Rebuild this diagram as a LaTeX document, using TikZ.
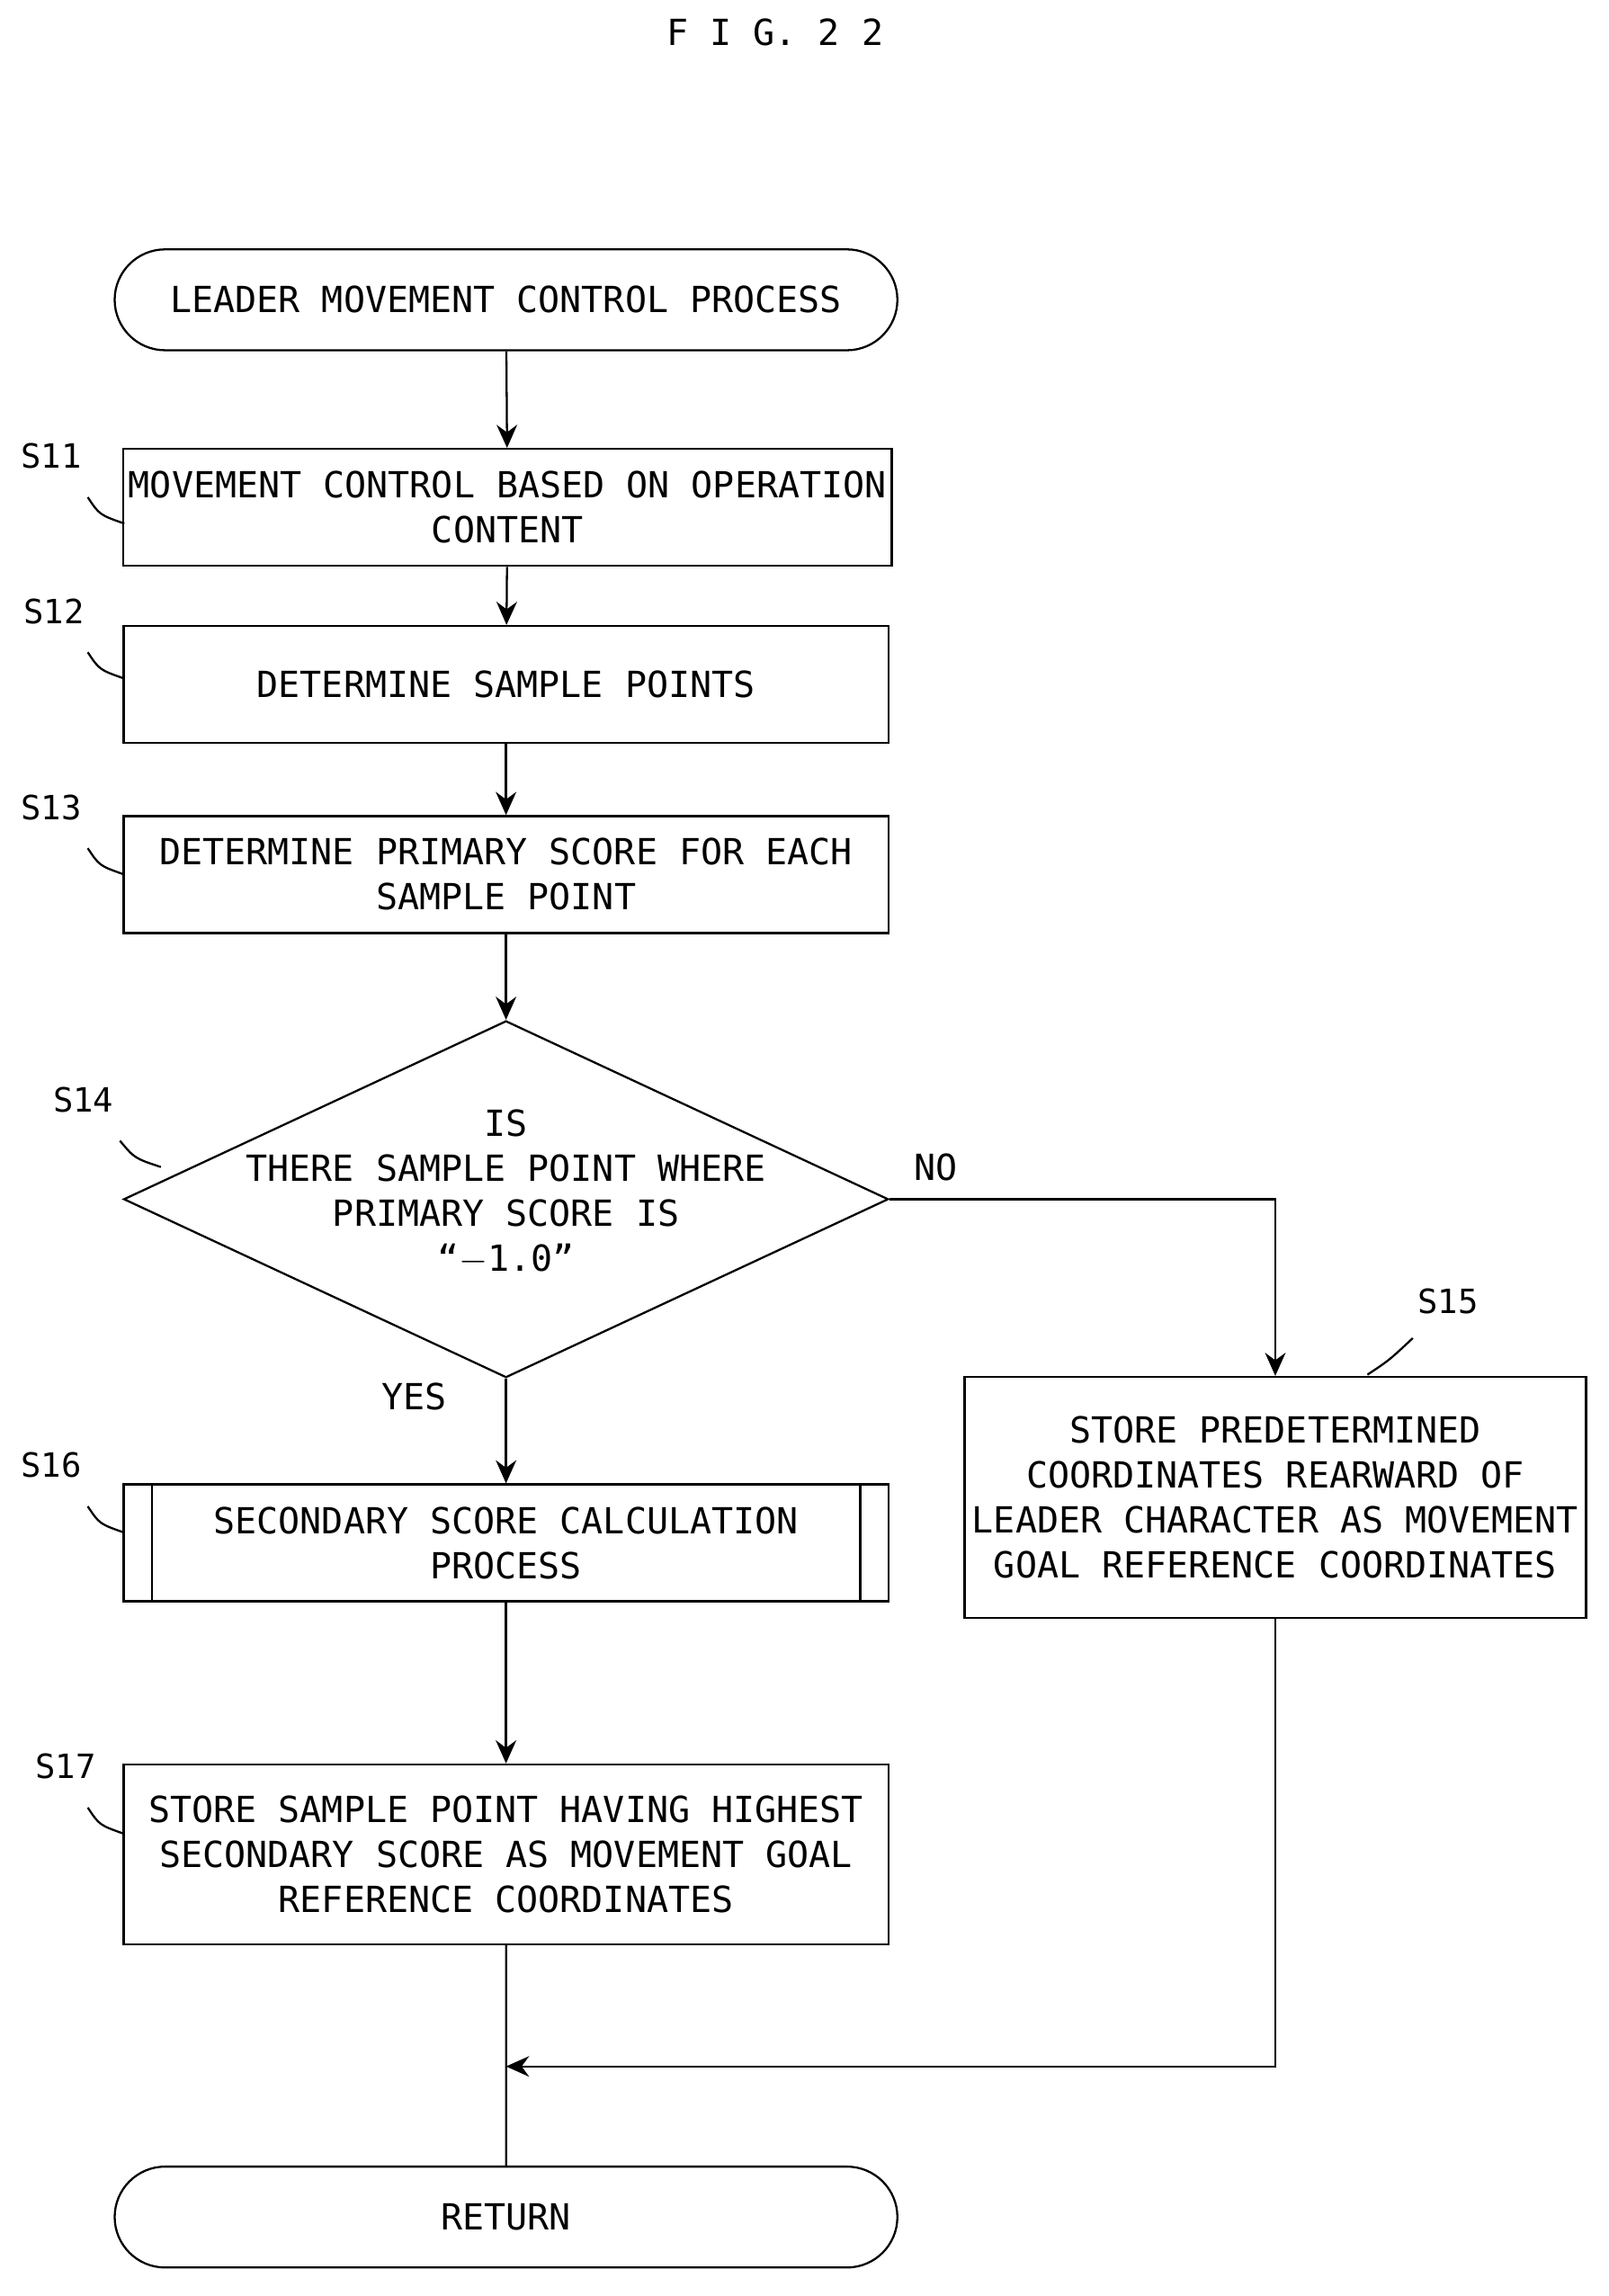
\documentclass[tikz,border=0pt]{standalone}
\usepackage{fontspec}
\setmainfont{DejaVu Sans Mono}
\usetikzlibrary{shapes.geometric,shapes.misc,arrows.meta}
\tikzset{
  box/.style={draw, thick, minimum width=10.46cm, minimum height=1.6cm, align=center, inner sep=2pt},
  term/.style={draw, thick, rounded rectangle, minimum width=10.94cm, minimum height=1.38cm},
  lbl/.style={font=\fontsize{13}{15}\selectfont},
  arr/.style={thick, -{Stealth[length=9pt,width=8pt]}}
}
\begin{document}
\begin{tikzpicture}[x=0.02cm, y=-0.02cm, font=\fontsize{14}{17.5}\selectfont]
\useasboundingbox (0,0) rectangle (1100,1570);
\node at (530,22) {F I G. 2 2};
\node[term] (start) at (346,205) {LEADER MOVEMENT CONTROL PROCESS};
\node[box] (s11) at (347,347) {MOVEMENT CONTROL BASED ON OPERATION\\CONTENT};
\node[box] (s12) at (346,468) {DETERMINE SAMPLE POINTS};
\node[box] (s13) at (346,598) {DETERMINE PRIMARY SCORE FOR EACH\\SAMPLE POINT};
\node[draw, thick, diamond, aspect=2.14, minimum width=10.46cm, minimum height=4.88cm, inner sep=0pt] (s14) at (346,820) {};
\node[align=center] at (346,815) {IS\\THERE SAMPLE POINT WHERE\\PRIMARY SCORE IS\\“$-$1.0”};
\node[box, minimum width=8.5cm, minimum height=3.3cm] (s15) at (872,1024) {STORE PREDETERMINED\\COORDINATES REARWARD OF\\LEADER CHARACTER AS MOVEMENT\\GOAL REFERENCE COORDINATES};
\node[box] (s16) at (346,1055) {SECONDARY SCORE CALCULATION\\PROCESS};
\draw[thick] ([xshift=0.4cm]s16.north west) -- ([xshift=0.4cm]s16.south west)
  ([xshift=-0.4cm]s16.north east) -- ([xshift=-0.4cm]s16.south east);
\node[box, minimum height=2.46cm] (s17) at (346,1268) {STORE SAMPLE POINT HAVING HIGHEST\\SECONDARY SCORE AS MOVEMENT GOAL\\REFERENCE COORDINATES};
\node[term] (ret) at (346,1516) {RETURN};
\coordinate (m) at (346,1413);
\draw[arr] (start) -- (s11);
\draw[arr] (s11) -- (s12);
\draw[arr] (s12) -- (s13);
\draw[arr] (s13) -- (s14);
\draw[arr] (s14.east) -| (s15.north);
\draw[arr] (s14.south) -- (s16);
\draw[arr] (s16) -- (s17);
\draw[thick] (s17) -- (ret);
\draw[arr] (s15.south) |- (m);
\node at (640,798) {NO};
\node at (283,955) {YES};
% step labels
\node[lbl] (l11) at (35,312) {S11};
\draw[thick] (60,340) .. controls (68,352) .. (85,358);
\node[lbl] (l12) at (37,418) {S12};
\draw[thick] (60,446) .. controls (68,458) .. (85,464);
\node[lbl] (l13) at (35,552) {S13};
\draw[thick] (60,580) .. controls (68,592) .. (85,598);
\node[lbl] (l14) at (57,752) {S14};
\draw[thick] (82,780) .. controls (92,792) .. (110,798);
\node[lbl] (l15) at (990,890) {S15};
\draw[thick] (966,915) .. controls (950,930) .. (935,940);
\node[lbl] (l16) at (35,1002) {S16};
\draw[thick] (60,1030) .. controls (68,1042) .. (85,1048);
\node[lbl] (l17) at (45,1208) {S17};
\draw[thick] (60,1236) .. controls (68,1248) .. (85,1254);
\end{tikzpicture}
\end{document}
